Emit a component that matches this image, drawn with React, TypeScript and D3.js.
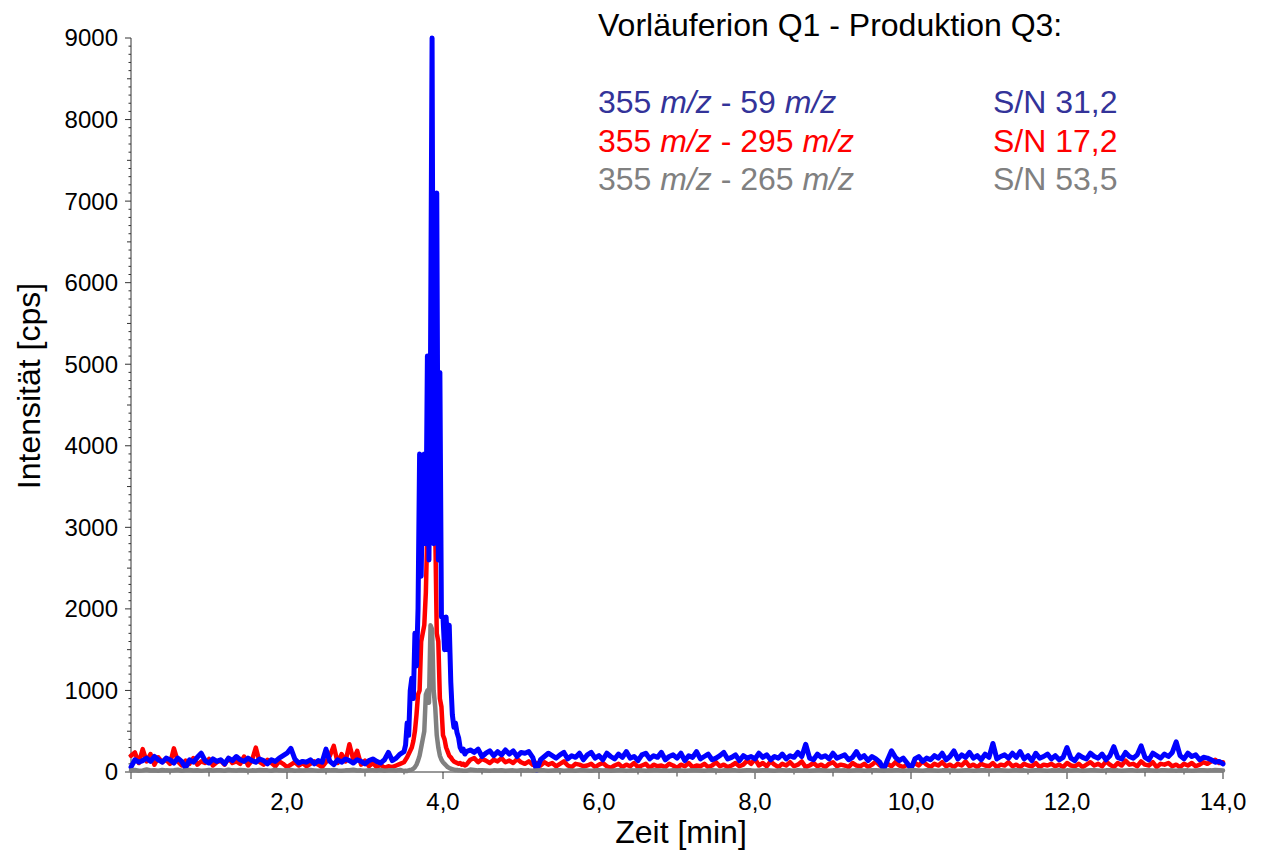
import React from "react";
import * as d3 from "d3";

// ---------- DATA ----------
// Baseline grid: 0.05 min steps, before (0.00–3.45) and after (4.35–14.00) the peak
const preStart = 0.0;
const postStart = 4.35;
const baseStep = 0.05;

const bluePre = [
  60, 150, 120, 140, 170, 130, 190, 150, 120, 170,
  150, 110, 170, 130, 50, 150, 120, 180, 230, 140,
  110, 160, 130, 150, 100, 170, 140, 190, 150, 130,
  170, 140, 120, 160, 140, 100, 150, 130, 170, 200,
  230, 290, 160, 110, 130, 120, 150, 100, 140, 120,
  280, 130, 90, 150, 120, 160, 140, 110, 150, 130,
  100, 140, 160, 130, 110, 150, 240, 140, 170, 220,
];
const redPre = [
  200, 240, 110, 280, 130, 220, 90, 180, 120, 150,
  100, 290, 130, 80, 140, 100, 170, 90, 130, 110,
  160, 80, 120, 140, 90, 170, 110, 130, 100, 190,
  80, 140, 300, 120, 90, 150, 110, 70, 130, 100,
  60, 90, 120, 80, 110, 70, 100, 130, 90, 60,
  120, 200, 320, 110, 220, 130, 340, 150, 260, 90,
  140, 70, 110, 60, 90, 50, 70, 60, 80, 100,
];
const grayPre = [
  20, 25, 15, 20, 30, 18, 22, 15, 25, 20,
  18, 22, 28, 15, 20, 25, 18, 22, 15, 20,
  25, 18, 20, 22, 15, 28, 20, 18, 25, 22,
  15, 20, 18, 25, 22, 20, 15, 28, 20, 18,
  22, 25, 15, 20, 18, 22, 25, 20, 15, 18,
  22, 20, 25, 18, 15, 20, 22, 28, 18, 20,
  15, 22, 20, 18, 25, 15, 20, 22, 18, 25,
];

const bluePost = [
  270, 240, 280, 190, 230, 260, 200, 250, 210, 270,
  220, 260, 190, 240, 230, 250, 180, 20, 150, 190,
  230, 200, 170, 210, 240, 160, 200, 180, 230, 150,
  210, 240, 170, 200, 150, 230, 190, 160, 220, 180,
  250, 170, 190, 140, 210, 230, 160, 200, 180, 240,
  150, 190, 210, 170, 230, 140, 200, 180, 250, 160,
  190, 220, 150, 170, 200, 240, 160, 180, 210, 140,
  200, 170, 190, 160, 230, 180, 210, 150, 190, 170,
  220, 160, 200, 180, 240, 190, 340, 170, 150, 220,
  180, 200, 160, 230, 170, 190, 210, 150, 180, 250,
  170, 200, 140, 190, 160, 120, 30, 150, 260, 180,
  140, 170, 110, 40, 160, 190, 130, 170, 150, 200,
  170, 230, 150, 190, 260, 160, 210, 180, 240, 170,
  200, 150, 220, 180, 350, 160, 190, 210, 170, 230,
  180, 250, 160, 200, 140, 230, 170, 190, 220, 160,
  200, 150, 180, 300, 170, 140, 210, 180, 160, 230,
  190, 170, 220, 150, 200, 310, 180, 160, 240, 190,
  170, 210, 320, 180, 150, 230, 200, 170, 220, 190,
  240, 370, 200, 160, 230, 190, 210, 150, 180, 170,
  150, 120, 130, 100,
];
const redPost = [
  150, 170, 120, 160, 140, 110, 150, 130, 170, 120,
  140, 110, 160, 120, 100, 130, 90, 110, 80, 120,
  90, 110, 70, 100, 130, 80, 60, 100, 90, 70,
  80, 100, 60, 90, 110, 70, 50, 80, 100, 60,
  90, 70, 110, 60, 80, 100, 50, 90, 70, 80,
  60, 100, 80, 50, 90, 70, 110, 60, 80, 70,
  100, 60, 80, 120, 70, 90, 60, 80, 110, 70,
  90, 140, 100, 160, 80, 110, 70, 130, 90, 60,
  100, 80, 120, 70, 90, 130, 60, 80, 110, 70,
  90, 60, 100, 120, 70, 90, 80, 60, 110, 80,
  70, 100, 60, 90, 130, 80, 60, 100, 70, 120,
  80, 60, 90, 70, 110, 80, 130, 90, 60, 100,
  80, 120, 70, 90, 60, 100, 80, 130, 70, 90,
  60, 100, 80, 70, 110, 60, 90, 80, 120, 70,
  90, 60, 100, 80, 70, 110, 60, 90, 80, 100,
  70, 90, 60, 110, 80, 70, 100, 60, 90, 120,
  80, 100, 70, 130, 90, 60, 110, 80, 140, 90,
  100, 70, 130, 90, 80, 120, 60, 100, 90, 110,
  70, 90, 60, 100, 80, 110, 70, 90, 120, 100,
  130, 150, 110, 120,
];
const grayPost = [
  30, 25, 20, 22, 18, 15, 20, 18, 22, 15,
  18, 20, 15, 22, 18, 20, 15, 18, 22, 20,
  15, 18, 20, 22, 15, 20, 18, 15, 22, 20,
  18, 15, 20, 22, 18, 20, 15, 18, 20, 22,
  15, 20, 18, 22, 20, 15, 18, 20, 22, 18,
  20, 15, 22, 18, 20, 15, 18, 22, 20, 18,
  15, 20, 22, 18, 15, 20, 18, 22, 20, 15,
  18, 22, 20, 15, 18, 20, 22, 18, 15, 20,
  22, 18, 20, 15, 22, 18, 20, 15, 18, 22,
  20, 18, 15, 20, 22, 18, 20, 15, 18, 20,
  22, 15, 18, 20, 22, 18, 15, 20, 18, 22,
  20, 15, 18, 22, 20, 18, 15, 22, 20, 18,
  15, 20, 22, 18, 20, 15, 18, 22, 20, 15,
  18, 20, 22, 15, 18, 20, 22, 18, 15, 20,
  22, 18, 20, 15, 18, 22, 20, 18, 15, 20,
  18, 22, 15, 20, 18, 22, 20, 15, 18, 20,
  22, 18, 15, 20, 22, 18, 20, 15, 18, 22,
  20, 15, 18, 22, 20, 18, 15, 20, 22, 18,
  20, 15, 22, 18, 20, 15, 18, 22, 20, 18,
  20, 25, 22, 18,
];

// Peak region: finer sampling 3.50–4.30 min
const peakTimes = [
  3.50, 3.52, 3.54, 3.56, 3.58, 3.60, 3.62, 3.64, 3.66, 3.68,
  3.70, 3.72, 3.74, 3.76, 3.78, 3.80, 3.82, 3.84, 3.86, 3.88,
  3.90, 3.92, 3.94, 3.96, 3.98, 4.00, 4.02, 4.04, 4.06, 4.08,
  4.10, 4.12, 4.14, 4.16, 4.18, 4.20, 4.22, 4.24, 4.26, 4.28, 4.30,
];
const bluePeak = [
  250, 330, 600, 450, 1000, 1150, 900, 1700, 1300, 2000,
  3900, 2400, 3600, 3900, 2800, 5100, 2600, 5100, 9000, 2800,
  5100, 7100, 2600, 4900, 1900, 1900, 1500, 1900, 1500, 1800,
  1100, 700, 550, 600, 480, 420, 300, 260, 280, 220, 250,
];
const redPeak = [
  120, 150, 180, 220, 260, 300, 380, 500, 700, 950,
  1000, 1600, 1700, 1800, 2200, 3000, 4700, 3200, 3100, 3200,
  3000, 1700, 1600, 900, 800, 450, 400, 300, 250, 200,
  180, 150, 130, 120, 110, 100, 110, 90, 100, 80, 90,
];
const grayPeak = [
  10, 15, 12, 20, 25, 30, 40, 60, 90, 140,
  200, 300, 400, 500, 950, 1000, 850, 1800, 1750, 1000,
  800, 450, 300, 200, 150, 120, 100, 80, 60, 50,
  40, 35, 30, 25, 25, 20, 20, 18, 15, 15, 15,
];

const xTickLabels = ["2,0", "4,0", "6,0", "8,0", "10,0", "12,0", "14,0"];
const xTickValues = [2, 4, 6, 8, 10, 12, 14];
const yTickValues = [0, 1000, 2000, 3000, 4000, 5000, 6000, 7000, 8000, 9000];

const legendTitle = "Vorläuferion Q1 - Produktion Q3:";
const legendRows = [
  { pre: "355 ", a: "m/z", mid: " - 59 ", b: "m/z", sn: "S/N 31,2", color: "#333399" },
  { pre: "355 ", a: "m/z", mid: " - 295 ", b: "m/z", sn: "S/N 17,2", color: "#ff0000" },
  { pre: "355 ", a: "m/z", mid: " - 265 ", b: "m/z", sn: "S/N 53,5", color: "#808080" },
];

// ---------- BUILD SERIES ----------
function buildSeries(pre: number[], peak: number[], post: number[]) {
  const pts: [number, number][] = [];
  pre.forEach((v, i) => pts.push([preStart + i * baseStep, v]));
  peak.forEach((v, i) => pts.push([peakTimes[i], v]));
  post.forEach((v, i) => pts.push([postStart + i * baseStep, v]));
  return pts;
}

const series = [
  { key: "red", color: "#ff0000", width: 4.5, pts: buildSeries(redPre, redPeak, redPost) },
  { key: "blue", color: "#0000ff", width: 5, pts: buildSeries(bluePre, bluePeak, bluePost) },
  { key: "gray", color: "#808080", width: 4.5, pts: buildSeries(grayPre, grayPeak, grayPost) },
];

const W = 1271;
const H = 852;
const FONT = "'Liberation Sans', Arial, sans-serif";

export default function App() {
  const x = d3.scaleLinear().domain([0, 14]).range([131, 1223]);
  const y = d3.scaleLinear().domain([0, 9000]).range([772, 38]);
  const line = d3
    .line<[number, number]>()
    .x((d) => x(d[0]))
    .y((d) => y(d[1]));

  const yMinor = d3.range(0, 9001, 100);
  const xMinor = d3.range(0, 14.001, 0.5);

  return (
    <svg
      width={W}
      height={H}
      style={{ position: "absolute", left: 0, top: 0, background: "#fff" }}
      fontFamily={FONT}
    >
      {/* Y axis */}
      <line x1={x(0)} x2={x(0)} y1={y(9000)} y2={y(0)} stroke="#333" strokeWidth={1} />
      {yMinor.map((v) => {
        const len = v % 1000 === 0 ? 6 : v % 500 === 0 ? 4 : 2.5;
        return (
          <line key={"ym" + v} x1={x(0) - len} x2={x(0)} y1={y(v)} y2={y(v)} stroke="#333" strokeWidth={1} />
        );
      })}
      {yTickValues.map((v) => (
        <text key={"yt" + v} x={118} y={y(v)} dy="0.35em" textAnchor="end" fontSize={24} fill="#000">
          {v}
        </text>
      ))}

      {/* X axis */}
      <line x1={x(0)} x2={x(14)} y1={y(0)} y2={y(0)} stroke="#333" strokeWidth={1} />
      {xMinor.map((v) => {
        const len = v % 2 === 0 ? 7 : v % 1 === 0 ? 4.5 : 2.5;
        return (
          <line key={"xm" + v} x1={x(v)} x2={x(v)} y1={y(0)} y2={y(0) + len} stroke="#333" strokeWidth={1} />
        );
      })}
      {xTickValues.map((v, i) => (
        <text key={"xt" + v} x={x(v)} y={810} textAnchor="middle" fontSize={24} fill="#000">
          {xTickLabels[i]}
        </text>
      ))}

      {/* Series */}
      {series.map((s) => (
        <path
          key={s.key}
          d={line(s.pts) || ""}
          fill="none"
          stroke={s.color}
          strokeWidth={s.width}
          strokeLinejoin="round"
          strokeLinecap="round"
        />
      ))}

      {/* Axis titles */}
      <text x={681} y={843} textAnchor="middle" fontSize={32} fill="#000">
        Zeit [min]
      </text>
      <text
        transform={`translate(40,386) rotate(-90)`}
        textAnchor="middle"
        fontSize={32}
        fill="#000"
      >
        Intensität [cps]
      </text>

      {/* Legend */}
      <text x={598} y={36} fontSize={32} fill="#000">
        {legendTitle}
      </text>
      {legendRows.map((r, i) => (
        <g key={"lg" + i}>
          <text x={598} y={113 + i * 38.5} fontSize={32} fill={r.color}>
            {r.pre}
            <tspan fontStyle="italic">{r.a}</tspan>
            {r.mid}
            <tspan fontStyle="italic">{r.b}</tspan>
          </text>
          <text x={993} y={113 + i * 38.5} fontSize={32} fill={r.color}>
            {r.sn}
          </text>
        </g>
      ))}
    </svg>
  );
}
